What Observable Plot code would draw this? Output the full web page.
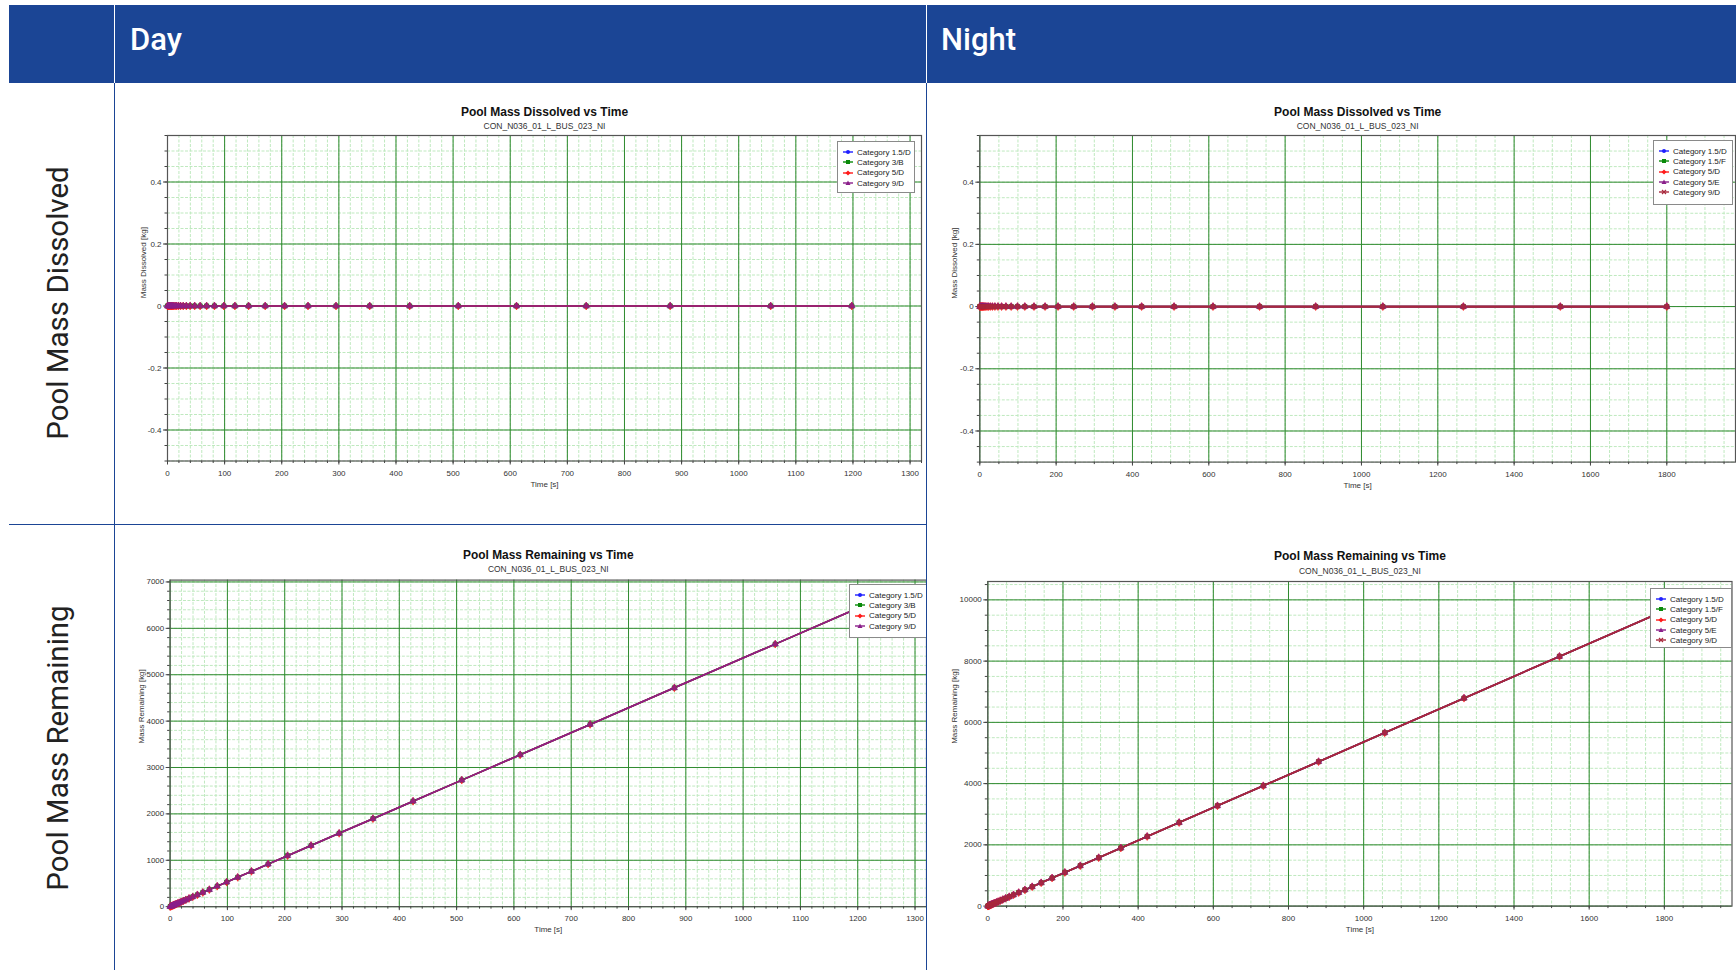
<!DOCTYPE html>
<html><head><meta charset="utf-8">
<script src="https://cdn.jsdelivr.net/npm/d3@7"></script>
<script src="https://cdn.jsdelivr.net/npm/@observablehq/plot@0.6"></script>
<style>
html,body{margin:0;padding:0;background:#fff;}
#page{position:relative;width:1736px;height:970px;overflow:hidden;background:#fff;font-family:Roboto,"Open Sans",sans-serif;}
.abs{position:absolute;}
.hdr{left:9px;top:5px;width:1727px;height:78px;background:#1b4595;}
.htxt{color:#fff;font-size:31px;font-weight:500;top:20px;line-height:40px;}
.rowlbl{font-size:29.5px;color:#222;white-space:nowrap;transform:translate(-50%,-50%) rotate(-90deg);}
.blue{background:#1b4595;}
.legend{background:#fff;border:1px solid #8a8a8a;font-family:"Liberation Sans",Arial,sans-serif;font-size:8px;color:#222;box-sizing:border-box;padding-top:5px;}
.legend .it{height:10.3px;display:flex;align-items:center;}
.legend svg{margin-left:5px;margin-right:4px;}
.clip{position:absolute;overflow:hidden;}
</style></head>
<body><div id="page"></div>
<script>
// ---------------- data ----------------
const dayCategories = ["Category 1.5/D","Category 3/B","Category 5/D","Category 9/D"];
const nightCategories = ["Category 1.5/D","Category 1.5/F","Category 5/D","Category 5/E","Category 9/D"];
const dayColors = ["#1f1fff","#0a8a0a","#ff1a1a","#8a1f8a"];
const nightColors = ["#1f1fff","#0a8a0a","#ff1a1a","#8a1f8a","#a8283c"];
const daySymbols = ["circle","square","diamond","triangle"];
const nightSymbols = ["circle","square","diamond","triangle","square"];

const dayTime = [0,1.3,2.6,3.8,5.3,6.4,7.7,9.2,11,13.3,15.9,19.1,22.9,27.5,33,39.6,47.6,57.1,68.5,82.2,98.7,118,142,171,205,246,295,354,424,509,611,733,880,1056,1198];
const dayDissolved = [0,0,0,0,0,0,0,0,0,0,0,0,0,0,0,0,0,0,0,0,0,0,0,0,0,0,0,0,0,0,0,0,0,0,0];
const dayRemaining = [0,7,14,20,28,34,41,49,59,71,85,102,123,147,177,212,255,306,367,441,529,632,761,917,1099,1318,1581,1897,2273,2728,3275,3929,4717,5660,6421];

const nightTime = [0,1.3,2.6,3.8,5.3,6.4,7.7,9.2,11,13.3,15.9,19.1,22.9,27.5,33,39.6,47.6,57.1,68.5,82.2,98.7,118,142,171,205,246,295,354,424,509,611,733,880,1056,1267,1521,1800];
const nightDissolved = [0,0,0,0,0,0,0,0,0,0,0,0,0,0,0,0,0,0,0,0,0,0,0,0,0,0,0,0,0,0,0,0,0,0,0,0,0];
const nightRemaining = [0,7,14,20,28,34,41,49,59,71,85,102,123,147,177,212,255,306,367,441,529,632,761,917,1099,1318,1581,1897,2273,2728,3275,3929,4717,5660,6791,8153,9648];

const dayXTicks = [0,100,200,300,400,500,600,700,800,900,1000,1100,1200,1300];
const nightXTicks = [0,200,400,600,800,1000,1200,1400,1600,1800];
const dissolvedYTicks = [-0.4,-0.2,0,0.2,0.4];
const dayRemYTicks = [0,1000,2000,3000,4000,5000,6000,7000];
const nightRemYTicks = [0,2000,4000,6000,8000,10000];

const columnTitles = ["Day","Night"];
const rowTitles = ["Pool Mass Dissolved","Pool Mass Remaining"];
const chartTitles = ["Pool Mass Dissolved vs Time","Pool Mass Remaining vs Time"];
const chartSubtitle = "CON_N036_01_L_BUS_023_NI";
const xLabel = "Time [s]";
const yLabels = ["Mass Dissolved [kg]","Mass Remaining [kg]"];

// ---------------- layout ----------------
const page = document.getElementById("page");
function div(cls, css, html){const d=document.createElement("div");d.className=cls;Object.assign(d.style,css);if(html!==undefined)d.innerHTML=html;page.appendChild(d);return d;}

div("abs hdr",{});
div("abs",{left:"113.5px",top:"5px",width:"1.5px",height:"78px",background:"#fff"});
div("abs",{left:"925.5px",top:"5px",width:"1.5px",height:"78px",background:"#fff"});
div("abs htxt",{left:"130px"},columnTitles[0]);
div("abs htxt",{left:"941px"},columnTitles[1]);
div("abs rowlbl",{left:"58px",top:"303px"},rowTitles[0]);
div("abs rowlbl",{left:"58px",top:"748px"},rowTitles[1]);

function panel(cfg){
  const data=[];
  cfg.cats.forEach(c=>cfg.t.forEach((t,j)=>data.push({cat:c,t,v:cfg.v[j]})));
  const gridMinor="#bfe9bf", gridMajor="#2f8a2f";
  const p = Plot.plot({
    width:cfg.width,height:cfg.height,
    marginLeft:cfg.mL,marginTop:cfg.mT,marginRight:cfg.mR,marginBottom:cfg.mB,
    style:{fontFamily:"'Liberation Sans',Arial,sans-serif",fontSize:"8px",color:"#333",background:"transparent"},
    x:{domain:cfg.xDomain},
    y:{domain:cfg.yDomain},
    color:{domain:cfg.cats,range:cfg.colors},
    symbol:{domain:cfg.cats,range:cfg.symbols},
    marks:[
      Plot.ruleX(cfg.xMinor,{stroke:gridMinor,strokeDasharray:"3,1.5",strokeWidth:1}),
      Plot.ruleY(cfg.yMinor,{stroke:gridMinor,strokeDasharray:"3,1.5",strokeWidth:1}),
      Plot.ruleX(cfg.xTicks,{stroke:gridMajor,strokeWidth:1}),
      Plot.ruleY(cfg.yTicks,{stroke:gridMajor,strokeWidth:1}),
      Plot.frame({stroke:"#555",strokeWidth:1.2}),
      Plot.axisX({ticks:cfg.xMinor,tickSize:2.5,tickFormat:()=>"",label:null,stroke:"#444"}),
      Plot.axisY({ticks:cfg.yMinor,tickSize:2.5,tickFormat:()=>"",label:null,stroke:"#444"}),
      Plot.axisX({ticks:cfg.xTicks,tickSize:4,tickPadding:5,tickFormat:d=>String(d),label:null,stroke:"#444",fill:"#333",fontSize:8}),
      Plot.axisY({ticks:cfg.yTicks,tickSize:4,tickPadding:2,tickFormat:d=>String(d),label:null,stroke:"#444",fill:"#333",fontSize:8}),
      Plot.line(data,{x:"t",y:"v",z:"cat",stroke:"cat",strokeWidth:1.6}),
      Plot.dot(data,{x:"t",y:"v",fill:"cat",stroke:"cat",symbol:"cat",r:2.4,strokeWidth:0.6,fillOpacity:0.85}),
      Plot.text([cfg.title],{text:d=>d,frameAnchor:"top",lineAnchor:"middle",dy:cfg.titleDy,fontSize:12,fontWeight:"bold",fill:"#111"}),
      Plot.text([chartSubtitle],{text:d=>d,frameAnchor:"top",lineAnchor:"middle",dy:cfg.subDy,fontSize:8.5,fill:"#333"}),
      Plot.text([xLabel],{text:d=>d,frameAnchor:"bottom",lineAnchor:"middle",dy:cfg.xlDy,fontSize:8,fill:"#333"}),
      Plot.text([cfg.yLabel],{text:d=>d,frameAnchor:"left",lineAnchor:"middle",rotate:-90,dx:cfg.ylDx,fontSize:8,fill:"#333"})
    ]
  });
  const c=document.createElement("div");c.className="clip";
  Object.assign(c.style,{left:cfg.left+"px",top:cfg.top+"px",width:cfg.clipW+"px",height:cfg.height+"px"});
  c.appendChild(p);page.appendChild(c);
  // legend
  const lg=div("abs legend",{left:cfg.lg[0]+"px",top:cfg.lg[1]+"px",width:cfg.lg[2]+"px",height:cfg.lg[3]+"px"});
  cfg.cats.forEach((c,i)=>{
    const col=cfg.colors[i], s=cfg.symbols[i];
    let m="";
    if(s==="circle") m=`<circle cx="5" cy="3" r="2" fill="${col}"/>`;
    else if(s==="square") m=`<rect x="3" y="1" width="4" height="4" fill="${col}"/>`;
    else if(s==="diamond") m=`<path d="M5,0.5L7.5,3L5,5.5L2.5,3Z" fill="${col}"/>`;
    else m=`<path d="M5,0.5L7.5,5L2.5,5Z" fill="${col}"/>`;
    if(cfg.cats.length===5 && i===4) m=`<path d="M3,1L7,5M7,1L3,5" stroke="${col}" stroke-width="1.2"/>`;
    const it=document.createElement("div");it.className="it";
    it.innerHTML=`<svg width="10" height="6"><line x1="0" y1="3" x2="10" y2="3" stroke="${col}" stroke-width="1.4"/>${m}</svg><span>${c}</span>`;
    lg.appendChild(it);
  });
}

const range=(a,b,s)=>d3.range(a,b+s/2,s);

// Day dissolved
panel({left:115,top:84,width:811,clipW:811,height:440,mL:52,mT:51,mR:5,mB:63.5,
  xDomain:[0,1320],yDomain:[-0.5,0.55],xTicks:dayXTicks,yTicks:dissolvedYTicks,
  xMinor:range(0,1320,20),yMinor:range(-0.5,0.55,0.05),
  t:dayTime,v:dayDissolved,cats:dayCategories,colors:dayColors,symbols:daySymbols,
  title:chartTitles[0],yLabel:yLabels[0],titleDy:-23.5,subDy:-9,xlDy:23.5,ylDx:-24.5,
  lg:[837,141,78,52]});
// Night dissolved
panel({left:927,top:84,width:809,clipW:809,height:440,mL:52.3,mT:51,mR:1,mB:62.4,
  xDomain:[0,1980],yDomain:[-0.5,0.55],xTicks:nightXTicks,yTicks:dissolvedYTicks,
  xMinor:range(0,1980,50),yMinor:range(-0.5,0.55,0.05),
  t:nightTime,v:nightDissolved,cats:nightCategories,colors:nightColors,symbols:nightSymbols,
  title:chartTitles[0],yLabel:yLabels[0],titleDy:-23.5,subDy:-9,xlDy:23.5,ylDx:-25,
  lg:[1653,140,80,65]});
// Day remaining
panel({left:115,top:525,width:817,clipW:811,height:445,mL:55,mT:55,mR:0,mB:61,
  xDomain:[0,1320],yDomain:[0,7040],xTicks:dayXTicks,yTicks:dayRemYTicks,
  xMinor:range(0,1320,20),yMinor:range(0,7000,200),
  t:dayTime,v:dayRemaining,cats:dayCategories,colors:dayColors,symbols:daySymbols,
  title:chartTitles[1],yLabel:yLabels[1],titleDy:-25.5,subDy:-11,xlDy:23,ylDx:-28.5,
  lg:[849,584,78,54]});
// Night remaining
panel({left:927,top:525,width:809,clipW:809,height:445,mL:60.3,mT:56,mR:4.5,mB:64.4,
  xDomain:[0,1980],yDomain:[0,10600],xTicks:nightXTicks,yTicks:nightRemYTicks,
  xMinor:range(0,1980,50),yMinor:range(0,10500,500),
  t:nightTime,v:nightRemaining,cats:nightCategories,colors:nightColors,symbols:nightSymbols,
  title:chartTitles[1],yLabel:yLabels[1],titleDy:-25,subDy:-10.5,xlDy:23,ylDx:-33,
  lg:[1650,588,82,60]});

// table lines
div("abs blue",{left:"113.5px",top:"83px",width:"1.6px",height:"887px"});
div("abs blue",{left:"925.5px",top:"83px",width:"1.6px",height:"887px"});
div("abs blue",{left:"9px",top:"523.5px",width:"918px",height:"1.6px"});
</script>
</body></html>
